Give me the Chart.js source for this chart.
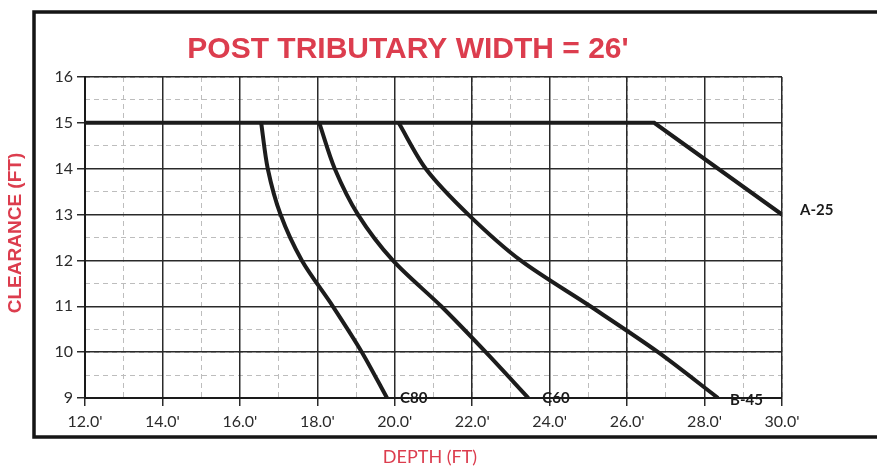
<!DOCTYPE html>
<html>
<head>
<meta charset="utf-8">
<script src="https://cdn.jsdelivr.net/npm/chart.js@4.4.1/dist/chart.umd.min.js"></script>
<style>
  html, body { margin: 0; padding: 0; background: #fff; }
</style>
</head>
<body>
<canvas id="clearanceChart" width="877" height="468"></canvas>
<script>
// depth (ft) vs clearance (ft)
const a25Depth = [12, 26.7, 30];
const a25Clear = [15, 15, 13];
const c80Depth = [16.55, 16.72, 17.05, 17.6, 18.4, 19.15, 19.8];
const c80Clear = [15, 14, 13, 12, 11, 10, 9];
const c60Depth = [18.05, 18.45, 19.05, 19.95, 21.2, 22.35, 23.45];
const c60Clear = [15, 14, 13, 12, 11, 10, 9];
const b45Depth = [20.1, 20.8, 21.9, 23.25, 25.05, 26.8, 28.35];
const b45Clear = [15, 14, 13, 12, 11, 10, 9];
const seriesNames = ['A-25', 'C80', 'C60', 'B-45'];

const depthMin = 12, depthMax = 30, depthStep = 2;
const clearMin = 9, clearMax = 16, clearStep = 1;

function toPoints(xs, ys) {
    return xs.map((x, i) => ({ x: x, y: ys[i] }));
}

const labelFont = 'Lato, "Open Sans", sans-serif';
const redText = '#dc3d4e';

function curve(name, xs, ys, tension) {
    return {
        label: name,
        data: toPoints(xs, ys),
        showLine: true,
        borderColor: '#1c1c1c',
        borderWidth: 4,
        pointRadius: 0,
        tension: tension,
        xAxisID: 'x',
        yAxisID: 'y'
    };
}

// frame around the plot + the texts placed outside the chart area
const decorations = {
    id: 'decorations',
    beforeDraw(chart) {
        const c = chart.ctx;
        c.save();
        c.fillStyle = '#fff';
        c.fillRect(0, 0, chart.width, chart.height);
        c.strokeStyle = '#151515';
        c.lineWidth = 3.5;
        c.strokeRect(34, 12, 900, 425);
        c.restore();
    },
    afterDraw(chart) {
        const c = chart.ctx;
        const xs = chart.scales.x, ys = chart.scales.y;
        c.save();
        c.fillStyle = redText;
        c.textAlign = 'center';
        c.textBaseline = 'alphabetic';
        c.font = 'bold 30px "Liberation Sans", Arial, sans-serif';
        c.fillText("POST TRIBUTARY WIDTH = 26'", 408, 58);

        c.font = '18px ' + labelFont;
        c.textBaseline = 'middle';
        c.fillText('DEPTH (FT)', 430, 457);

        c.save();
        c.translate(16, 233);
        c.rotate(-Math.PI / 2);
        c.font = 'bold 19px "Liberation Sans", Arial, sans-serif';
        c.fillText('CLEARANCE (FT)', 0, 0);
        c.restore();

        // curve names at the ends of the lines
        c.fillStyle = '#1a1a1a';
        c.font = 'bold 15px ' + labelFont;
        c.textAlign = 'left';
        const ends = [
            [seriesNames[0], a25Depth[a25Depth.length - 1], a25Clear[a25Clear.length - 1], 18, -4],
            [seriesNames[1], c80Depth[c80Depth.length - 1], c80Clear[c80Clear.length - 1], 13, 0],
            [seriesNames[2], c60Depth[c60Depth.length - 1], c60Clear[c60Clear.length - 1], 14, 0],
            [seriesNames[3], b45Depth[b45Depth.length - 1], b45Clear[b45Clear.length - 1], 12, 2]
        ];
        ends.forEach(e => {
            c.fillText(e[0], xs.getPixelForValue(e[1]) + e[3], ys.getPixelForValue(e[2]) + e[4]);
        });
        c.restore();
    }
};

new Chart(document.getElementById('clearanceChart').getContext('2d'), {
    type: 'scatter',
    data: {
        datasets: [
            curve(seriesNames[0], a25Depth, a25Clear, 0),
            curve(seriesNames[1], c80Depth, c80Clear, 0.3),
            curve(seriesNames[2], c60Depth, c60Clear, 0.3),
            curve(seriesNames[3], b45Depth, b45Clear, 0.3)
        ]
    },
    options: {
        responsive: false,
        animation: false,
        layout: { padding: { left: 0, right: 95, top: 77, bottom: 40 } },
        plugins: { legend: { display: false }, tooltip: { enabled: false } },
        scales: {
            // dashed minor grid
            xMinor: {
                type: 'linear', position: 'bottom', min: depthMin, max: depthMax,
                ticks: { display: false, stepSize: 1 },
                grid: { color: '#bdbdbd', lineWidth: 1, drawTicks: false },
                border: { display: false, dash: [5, 4] },
                afterFit: s => { s.height = 0; }
            },
            yMinor: {
                type: 'linear', position: 'left', min: clearMin, max: clearMax,
                ticks: { display: false, stepSize: 0.5 },
                grid: { color: '#bdbdbd', lineWidth: 1, drawTicks: false },
                border: { display: false, dash: [5, 4] },
                afterFit: s => { s.width = 0; }
            },
            x: {
                type: 'linear', position: 'bottom', min: depthMin, max: depthMax,
                ticks: {
                    stepSize: depthStep,
                    padding: 6,
                    color: '#2b2b2b',
                    font: { family: labelFont, size: 16 },
                    callback: v => v.toFixed(1) + "'"
                },
                grid: { color: '#2a2a2a', lineWidth: 1.5, tickLength: 8 },
                border: { color: '#1a1a1a', width: 2 },
                afterFit: s => { s.height = 30; }
            },
            y: {
                type: 'linear', position: 'left', min: clearMin, max: clearMax,
                ticks: {
                    stepSize: clearStep,
                    padding: 4,
                    color: '#2b2b2b',
                    font: { family: labelFont, size: 16 }
                },
                grid: { color: '#2a2a2a', lineWidth: 1.5, tickLength: 8 },
                border: { color: '#1a1a1a', width: 2 },
                afterFit: s => { s.width = 85; }
            }
        }
    },
    plugins: [decorations]
});
</script>
</body>
</html>
